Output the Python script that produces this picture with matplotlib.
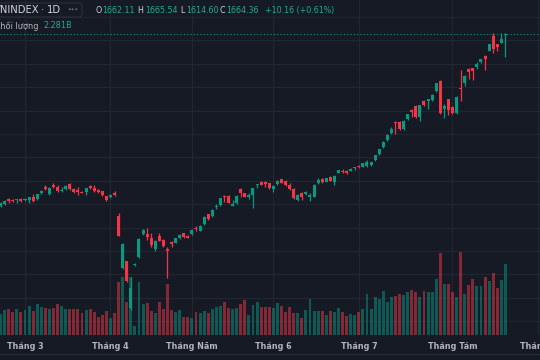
import numpy as np
import pandas as pd
import matplotlib
matplotlib.use("Agg")
import matplotlib.pyplot as plt
from matplotlib.lines import Line2D
from matplotlib.patches import FancyBboxPatch
from matplotlib.transforms import IdentityTransform, blended_transform_factory

# ---------------- data (VNINDEX daily, 21 Feb 2025 -> 20 Aug 2025) ----------------
opens = [
    1296.3, 1300.6, 1310.6, 1309.1, 1308.5, 1310.6,
    1309.1, 1309.1, 1315.5, 1310.2, 1323.0, 1336.9, 1321.3, 1341.4, 1337.5, 1327.7,
    1332.6, 1342.6, 1333.2, 1330.5, 1326.8, 1325.6, 1339.0, 1335.4, 1330.5, 1327.7,
    1317.0, 1316.2, 1324.7, 1275.5, 1163.1, 1178.1, 1078.3, 1169.6, 1187.9, 1236.4,
    1236.4, 1228.5, 1204.4, 1232.2, 1223.6, 1205.0, 1219.3, 1217.9, 1227.9, 1237.9,
    1232.2, 1236.4, 1248.6, 1243.5, 1257.8, 1278.5, 1274.3, 1294.8, 1297.8, 1318.1,
    1317.6, 1297.3, 1302.0, 1332.6, 1323.4, 1314.9, 1319.8, 1340.1, 1347.6, 1348.2,
    1344.8, 1332.6, 1343.3, 1353.3, 1349.7, 1341.8, 1332.6, 1309.1, 1324.7, 1321.9,
    1316.2, 1316.2, 1344.8, 1353.3, 1348.2, 1358.9, 1346.9, 1367.4, 1371.7, 1371.1,
    1371.7, 1376.8, 1381.8, 1380.3, 1382.4, 1384.9, 1394.6, 1407.4, 1421.7, 1437.3,
    1451.6, 1475.1, 1476.4, 1460.4, 1482.2, 1501.4, 1510.0, 1485.8, 1521.3, 1521.3,
    1522.8, 1542.0, 1563.4, 1504.4, 1524.3, 1508.5, 1494.4, 1549.1, 1558.5, 1588.6,
    1590.8, 1592.7, 1603.4, 1616.8, 1628.2, 1659.6, 1641.9, 1645.5, 1662.11,
]
highs = [
    1303.8, 1309.1, 1313.4, 1310.6, 1311.9, 1312.7,
    1313.4, 1316.2, 1321.3, 1322.6, 1330.5, 1340.1, 1336.2, 1344.8, 1341.8, 1336.2,
    1340.5, 1344.8, 1335.4, 1336.2, 1328.3, 1335.4, 1341.8, 1340.5, 1333.2, 1329.0,
    1318.3, 1321.9, 1327.7, 1280.7, 1217.2, 1179.8, 1144.6, 1173.4, 1227.3, 1247.1,
    1249.9, 1237.9, 1223.0, 1237.9, 1225.1, 1209.3, 1220.9, 1228.5, 1236.4, 1239.2,
    1234.3, 1246.5, 1254.2, 1255.7, 1274.9, 1279.8, 1289.2, 1299.9, 1314.0, 1319.8,
    1319.1, 1309.1, 1319.1, 1334.1, 1324.7, 1323.4, 1335.4, 1343.9, 1349.1, 1350.3,
    1346.1, 1341.2, 1351.8, 1354.7, 1351.2, 1344.8, 1334.1, 1321.3, 1326.2, 1328.3,
    1324.7, 1342.6, 1355.5, 1355.5, 1356.8, 1360.4, 1362.5, 1374.2, 1374.7, 1372.6,
    1376.8, 1380.3, 1383.3, 1388.9, 1394.6, 1391.0, 1406.1, 1418.7, 1435.2, 1449.5,
    1465.8, 1478.6, 1477.9, 1479.4, 1493.5, 1502.9, 1511.5, 1512.8, 1522.8, 1525.6,
    1535.0, 1560.0, 1564.9, 1514.3, 1525.6, 1510.0, 1531.4, 1587.0, 1575.6, 1590.8,
    1592.0, 1603.4, 1611.1, 1618.3, 1643.2, 1665.4, 1643.2, 1665.4, 1665.54,
]
lows = [
    1294.1, 1298.4, 1303.3, 1304.8, 1302.7, 1304.2,
    1307.6, 1302.0, 1305.5, 1308.5, 1321.3, 1329.4, 1319.8, 1334.7, 1326.8, 1326.2,
    1331.1, 1331.1, 1324.7, 1320.4, 1323.4, 1319.8, 1332.6, 1326.8, 1323.4, 1318.3,
    1307.0, 1312.7, 1318.3, 1231.1, 1161.6, 1133.9, 1074.0, 1168.1, 1185.1, 1234.3,
    1223.6, 1209.3, 1200.8, 1220.9, 1208.0, 1141.9, 1208.0, 1216.6, 1226.4, 1227.9,
    1227.3, 1234.3, 1243.5, 1242.2, 1256.3, 1267.0, 1272.8, 1289.2, 1296.3, 1304.8,
    1302.0, 1295.6, 1300.6, 1316.2, 1314.9, 1311.9, 1292.6, 1334.1, 1340.5, 1337.5,
    1332.6, 1326.8, 1341.8, 1344.8, 1339.0, 1330.5, 1311.2, 1307.6, 1309.1, 1320.4,
    1307.6, 1314.9, 1343.3, 1346.1, 1346.9, 1349.1, 1341.2, 1366.1, 1366.1, 1364.0,
    1370.4, 1373.2, 1377.5, 1379.0, 1379.0, 1381.8, 1393.3, 1406.1, 1420.2, 1436.0,
    1450.1, 1450.1, 1459.3, 1458.7, 1480.7, 1485.8, 1484.3, 1478.6, 1510.6, 1502.9,
    1521.3, 1540.6, 1492.9, 1483.7, 1490.7, 1492.9, 1492.9, 1521.3, 1553.6, 1567.7,
    1565.5, 1589.0, 1601.9, 1586.9, 1627.1, 1623.9, 1627.7, 1644.2, 1614.60,
]
closes = [
    1302.0, 1307.6, 1305.9, 1306.3, 1310.6, 1307.6,
    1311.9, 1314.9, 1307.0, 1321.3, 1329.0, 1332.6, 1334.7, 1337.5, 1328.3, 1330.5,
    1339.0, 1332.6, 1326.8, 1326.2, 1324.7, 1334.1, 1334.1, 1328.3, 1326.2, 1319.8,
    1309.7, 1320.4, 1320.4, 1232.8, 1215.1, 1136.0, 1121.0, 1172.3, 1225.8, 1245.0,
    1230.7, 1213.6, 1221.5, 1222.1, 1210.8, 1200.8, 1215.1, 1227.3, 1234.3, 1229.4,
    1228.5, 1245.0, 1246.5, 1254.2, 1273.4, 1268.5, 1287.7, 1296.9, 1312.7, 1316.2,
    1303.1, 1299.9, 1317.6, 1324.7, 1316.2, 1319.8, 1334.1, 1342.6, 1341.8, 1343.3,
    1334.1, 1339.7, 1350.3, 1346.1, 1341.2, 1332.0, 1312.7, 1319.8, 1316.2, 1326.8,
    1319.8, 1341.2, 1351.8, 1348.2, 1355.5, 1350.3, 1361.0, 1373.2, 1368.9, 1367.4,
    1375.4, 1379.0, 1379.0, 1387.6, 1389.3, 1389.6, 1404.8, 1417.5, 1433.9, 1448.0,
    1460.8, 1473.0, 1460.8, 1477.9, 1492.2, 1497.8, 1485.8, 1511.5, 1512.1, 1524.3,
    1533.5, 1558.5, 1494.4, 1510.0, 1501.4, 1494.4, 1530.1, 1547.0, 1574.1, 1583.5,
    1585.6, 1599.1, 1609.8, 1611.1, 1641.9, 1631.2, 1636.8, 1654.20, 1664.36,
]
volumes_b = [  # billions of shares
    0.68, 0.81, 0.84, 0.73, 0.84, 0.75,
    0.81, 0.94, 0.77, 1.00, 0.89, 0.86, 0.84, 0.86, 1.00, 0.95,
    0.83, 0.83, 0.83, 0.83, 0.72, 0.81, 0.83, 0.74, 0.58, 0.65,
    0.76, 0.56, 0.72, 1.72, 1.88, 1.05, 1.86, 0.29, 1.70, 0.99,
    1.02, 0.77, 0.70, 1.05, 0.83, 1.64, 0.80, 0.75, 0.80, 0.58,
    0.57, 0.56, 0.73, 0.70, 0.78, 0.70, 0.84, 0.89, 0.94, 1.05,
    0.86, 0.84, 0.86, 1.00, 1.13, 0.65, 0.97, 1.05, 0.89, 0.89,
    0.89, 0.86, 1.02, 0.95, 0.75, 0.89, 0.72, 0.70, 0.54, 0.81,
    1.16, 0.77, 0.77, 0.77, 0.65, 0.77, 0.73, 0.88, 0.73, 0.61,
    0.68, 0.65, 0.73, 0.84, 1.31, 0.84, 1.23, 1.17, 1.42, 1.07,
    1.24, 1.26, 1.32, 1.29, 1.40, 1.45, 1.38, 1.22, 1.43, 1.38,
    1.40, 1.80, 2.64, 1.64, 1.65, 1.38, 1.23, 2.69, 1.32, 1.61,
    1.82, 1.59, 1.59, 1.86, 1.74, 2.00, 1.51, 1.78, 2.281,
]
month_labels = ["Tháng 3", "Tháng 4", "Tháng Năm", "Tháng 6", "Tháng 7", "Tháng Tám", "Tháng 9"]
holidays = ["2025-04-07", "2025-04-30", "2025-05-01", "2025-05-02", "2025-09-01", "2025-09-02"]

# ---------------- setup ----------------
BG = "#161a25"
GRID = "#222631"
UP = "#089981"
DOWN = "#f23645"
TXT = "#d1d4dc"
LBL = "#b2b5be"
VALC = "#22ab94"

days = pd.bdate_range("2025-02-21", "2025-09-05")
days = days[~days.isin(pd.to_datetime(holidays))]
per = days.to_period("M")
month_starts = [int(np.where(per == p)[0][0]) for p in per.unique()][1:]

o = np.array(opens); h = np.array(highs); l = np.array(lows); c = np.array(closes)
v = np.array(volumes_b)
x = np.arange(len(c))
up = c >= o
cols = np.where(up, UP, DOWN)

fig = plt.figure(figsize=(5.4, 3.6), dpi=100, facecolor=BG)
ax_v = fig.add_axes([0, 25 / 360, 1, 335 / 360])
ax_v.set_facecolor(BG)
ax_p = ax_v.twinx()
ax_p.set_zorder(ax_v.get_zorder() + 1)
ax_p.patch.set_visible(False)

ax_v.set_xlim(-0.14, 132.5)
ax_p.set_ylim(1020.6, 1736.5)
ax_v.set_ylim(0, 10.81)

# grid
ax_v.set_xticks(month_starts)
ax_v.set_xticklabels(month_labels)
ax_v.grid(axis="x", color=GRID, lw=0.8)
ax_v.set_axisbelow(True)
tr = blended_transform_factory(ax_v.transAxes, ax_p.transData)
for lvl in np.arange(1050, 1751, 50):
    ax_v.add_line(Line2D([0, 1], [lvl, lvl], transform=tr, color=GRID, lw=0.8, zorder=0.5))

# volume
ax_v.bar(x, v, width=0.72, color=cols, alpha=0.5, linewidth=0, zorder=2)

# candles
ax_p.vlines(x, l, h, colors=cols, lw=0.9, zorder=3)
ax_p.bar(x, np.maximum(np.abs(c - o), 1.3), bottom=np.minimum(o, c), width=0.74,
         color=cols, linewidth=0, zorder=4)

# last price line
ax_p.axhline(c[-1], color=UP, lw=0.8, ls=(0, (1, 2)), zorder=2)

for a in (ax_v, ax_p):
    for s in a.spines.values():
        s.set_visible(False)
    a.set_yticks([])
ax_v.tick_params(axis="x", length=0, pad=5, labelsize=5.8, labelcolor=LBL)
for t in ax_v.get_xticklabels():
    t.set_fontweight("bold")

fig.add_artist(Line2D([0, 1], [1 - 354 / 360] * 2, transform=fig.transFigure, color="#2a2e39", lw=0.8))

# ---------------- header ----------------
idt = IdentityTransform()
H = 360
box = FancyBboxPatch((-6, H - 17), 88, 14, boxstyle="round,pad=0,rounding_size=3",
                     transform=idt, fc="none", ec="#2a2e39", lw=0.8)
fig.add_artist(box)

def put(px, py, s, color, size, **kw):
    fig.text(px, H - py, s, transform=idt, color=color, fontsize=size, va="center", ha="left", **kw)

put(-6.5, 10.3, "VNINDEX", TXT, 7.2)
put(40.5, 10.3, "·", TXT, 7.2)
put(46.5, 10.3, "1D", TXT, 7.2)
put(67, 9.8, "•••", "#868993", 4.5)

fs = 5.7
put(95, 10.3, "O", TXT, fs)
put(102, 10.3, "1662.11", VALC, fs)
put(137.5, 10.3, "H", TXT, fs)
put(145, 10.3, "1665.54", VALC, fs)
put(180, 10.3, "L", TXT, fs)
put(186, 10.3, "1614.60", VALC, fs)
put(219, 10.3, "C", TXT, fs)
put(226, 10.3, "1664.36", VALC, fs)
put(265, 10.3, "+10.16 (+0.61%)", VALC, fs)

put(-5.4, 26, "Khối lượng", LBL, 5.9)
put(43, 26, "2.281B", VALC, 5.9)

fig.savefig("out.png", dpi=100, facecolor=BG)
